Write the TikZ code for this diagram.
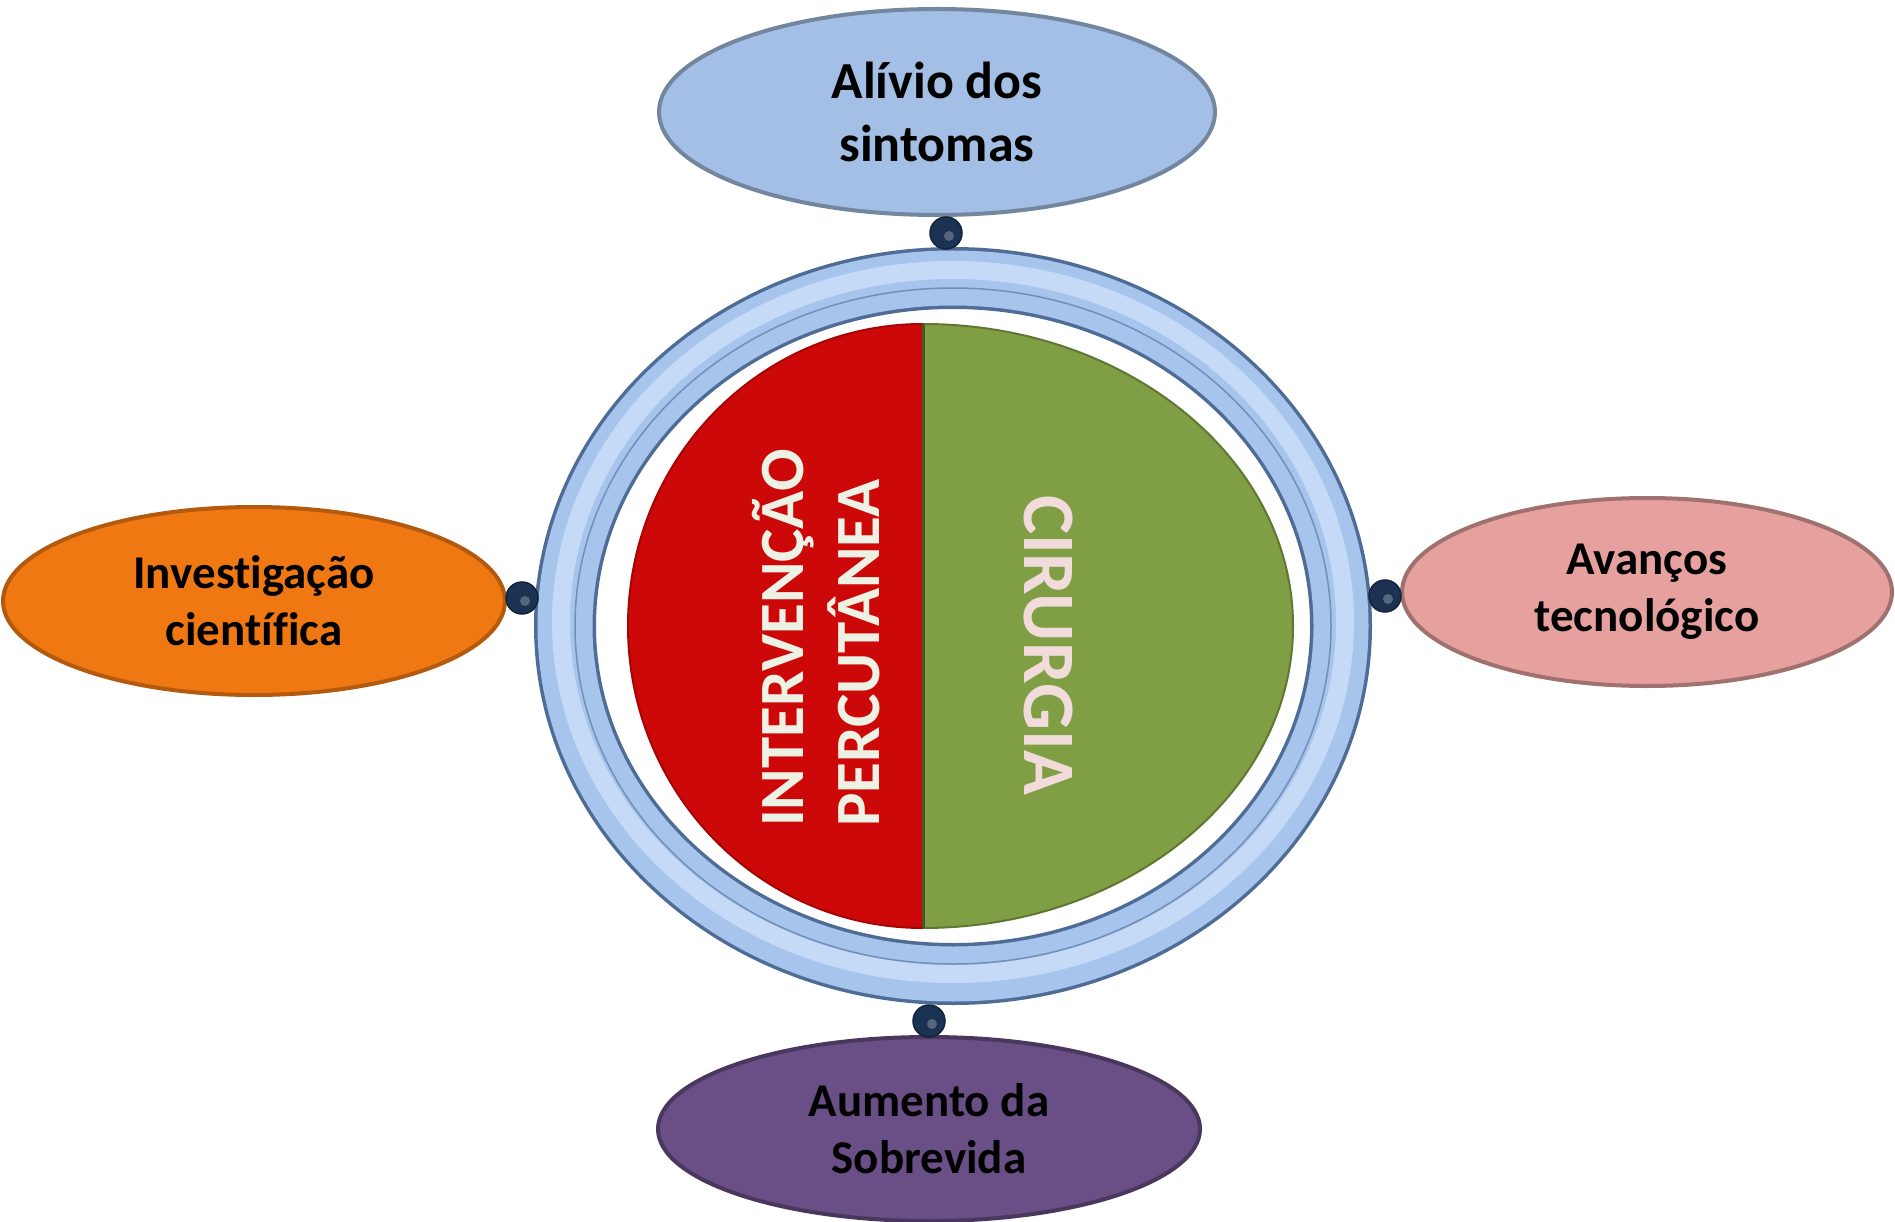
\documentclass[tikz,border=0pt]{standalone}
\usepackage{fontspec}
\setmainfont{Carlito}[Ligatures={NoCommon}]
\usetikzlibrary{shapes.geometric}
\definecolor{topblue}{RGB}{164,191,229}
\definecolor{orangefill}{RGB}{240,120,18}
\definecolor{pinkfill}{RGB}{230,161,159}
\definecolor{purplefill}{RGB}{106,78,134}
\definecolor{ringlight}{RGB}{166,196,236}
\definecolor{ringdark}{RGB}{78,108,150}
\definecolor{ringhi}{RGB}{196,218,246}
\definecolor{piered}{RGB}{205,8,8}
\definecolor{piegreen}{RGB}{128,159,68}
\definecolor{dotblue}{RGB}{28,50,82}
\definecolor{creamtext}{RGB}{238,242,228}
\definecolor{pinktext}{RGB}{242,220,219}
\begin{document}
\begin{tikzpicture}[x=1pt,y=-1pt,
  bubble/.style={ellipse, inner sep=0pt, line width=4pt, align=center,
    font=\bfseries\fontsize{47}{57}\selectfont, text=black},
  knob/.style={circle, inner sep=0pt, minimum size=32pt, fill=dotblue,
    draw=dotblue!70!black, line width=1.5pt},
  vtext/.style={align=left, inner sep=0pt, font=\bfseries}]
\useasboundingbox (0,0) rectangle (1895,1222);

% outer bubbles
\node[bubble, fill=topblue, draw=topblue!70!black, minimum width=556pt, minimum height=206pt,
  font=\bfseries\fontsize{52}{63}\selectfont] (alivio) at (937,112) {Alívio dos\\sintomas};
\node[bubble, fill=orangefill, draw=orangefill!75!black, minimum width=502pt, minimum height=188pt]
  (invest) at (254,601) {Investigação\\científica};
\node[bubble, fill=pinkfill, draw=pinkfill!70!black, minimum width=490pt, minimum height=188pt]
  (avanc) at (1647,592) {Avanços\\tecnológico};
\node[bubble, fill=purplefill, draw=purplefill!70!black, minimum width=542pt, minimum height=184pt]
  (aument) at (929,1129) {Aumento da\\Sobrevida};

% ring
\draw[ringdark, line width=62pt] (953,626) ellipse [x radius=388, y radius=348];
\draw[ringlight, line width=55pt] (953,626) ellipse [x radius=388, y radius=348];
\draw[ringhi, line width=18pt] (953,622) ellipse [x radius=392, y radius=352];
\draw[ringdark!60!ringlight, line width=1.5pt] (953,626) ellipse [x radius=378, y radius=338];

% pie halves
\fill[piered] (923,324) arc[start angle=-90, end angle=-270, x radius=295, y radius=302] -- cycle;
\draw[piered!80!black, line width=2pt] (923,324) arc[start angle=-90, end angle=-270, x radius=295, y radius=302];
\fill[piegreen] (923,324) arc[start angle=-90, end angle=90, x radius=370, y radius=302] -- cycle;
\draw[piegreen!75!black, line width=2pt] (923,324) arc[start angle=-90, end angle=90, x radius=370, y radius=302];
\draw[piegreen!55!black, line width=3pt] (923,324) -- (923,928);

% texts on pie
\node[vtext, rotate=90, text=creamtext, font=\bfseries\fontsize{63}{76}\selectfont]
  (interv) at (816,638) {INTERVENÇÃO\\PERCUTÂNEA};
\node[vtext, rotate=-90, text=pinktext, font=\bfseries\fontsize{74}{88}\selectfont]
  (cirurgia) at (1048,645) {CIRURGIA};

% knobs
\node[knob] (ktop) at (946,233) {};
\node[knob] (kleft) at (522,598) {};
\node[knob] (kright) at (1385,596) {};
\node[knob] (kbot) at (929,1021) {};
\foreach \k in {ktop,kleft,kright,kbot}
  \fill[white, opacity=0.25] ([shift={(3,3)}]\k.center) circle[radius=5];
\end{tikzpicture}
\end{document}
